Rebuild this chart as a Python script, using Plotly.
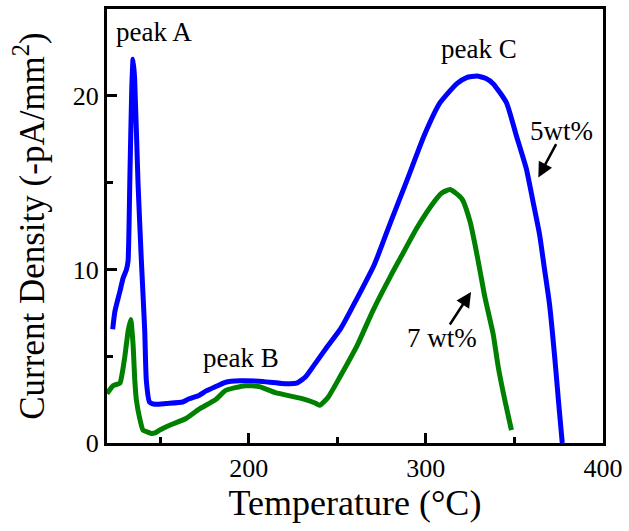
import plotly.graph_objects as go

# ---- data ----
blue_x = [123.2, 124.5, 127.3, 129.1, 131.0, 131.9, 132.9, 134.0, 134.7, 135.6, 137.5, 139.4,
          141.3, 142.2, 144.0, 146.9, 153.6, 162.7, 166.4, 172.0, 176.0, 181.4, 187.0, 195.0,
          205.6, 212.0, 218.5, 227.0, 232.0, 237.0, 244.0, 252.0, 261.0, 271.0, 280.0, 289.6,
          299.0, 308.0, 317.5, 323.0, 328.7, 334.0, 338.0, 345.5, 351.1, 356.7, 360.5, 364.2,
          367.0, 369.8, 372.6, 375.0, 377.0]
blue_y = [6.55, 7.6, 8.74, 9.5, 10.0, 10.5, 15.2, 20.5, 22.1, 21.0, 15.0, 10.5,
          6.46, 3.6, 2.36, 2.23, 2.28, 2.36, 2.55, 2.74, 3.0, 3.25, 3.5, 3.58,
          3.56, 3.5, 3.43, 3.45, 3.8, 4.5, 5.5, 6.6, 8.3, 10.3, 12.7, 15.2,
          17.7, 19.6, 20.7, 21.05, 21.14, 21.0, 20.7, 19.6, 17.7, 15.8, 13.9, 12.0,
          10.0, 8.0, 5.1, 2.27, 0.0]

green_x = [120.0, 123.4, 127.3, 128.2, 130.0, 132.0, 133.4, 134.7, 135.7, 136.6, 138.5, 140.3,
           142.5, 145.0, 147.5, 149.7, 151.5, 156.0, 164.6, 172.0, 181.4, 187.0, 198.0, 206.0,
           215.0, 229.7, 237.5, 240.0, 244.8, 252.0, 261.6, 270.0, 280.0, 285.6, 295.0, 304.7,
           309.0, 313.7, 320.3, 325.0, 327.8, 330.6, 333.4, 338.0, 340.9, 344.6, 348.3]
green_y = [2.84, 3.3, 3.45, 3.8, 4.93, 6.5, 7.12, 5.7, 3.6, 2.46, 1.4, 0.74,
           0.65, 0.55, 0.6, 0.74, 0.84, 1.05, 1.41, 1.95, 2.5, 3.03, 3.3, 3.25,
           2.9, 2.57, 2.3, 2.17, 2.63, 3.9, 5.7, 7.6, 9.6, 10.65, 12.4, 13.9,
           14.4, 14.6, 14.07, 12.74, 11.4, 9.9, 8.36, 6.27, 4.36, 2.46, 0.74]

x_major = [200, 300, 400]
x_minor = [150, 250, 350]
y_major = [0, 10, 20]
y_minor = [5, 15]

labels = ["peak A", "peak B", "peak C", "5wt%", "7 wt%"]
label_x = [146.3, 195.5, 329.9, 376.3, 308.9]
label_y = [23.7, 4.9, 22.7, 18.0, 6.06]

FONT = "Liberation Serif, Times New Roman, serif"

fig = go.Figure()
fig.add_trace(go.Scatter(x=blue_x, y=blue_y, mode="lines", name="5wt%",
                         line=dict(color="#0000FF", width=5, shape="spline", smoothing=0.5)))
fig.add_trace(go.Scatter(x=green_x, y=green_y, mode="lines", name="7 wt%",
                         line=dict(color="#008000", width=5, shape="spline", smoothing=0.5)))

for t, lx, ly in zip(labels, label_x, label_y):
    fig.add_annotation(x=lx, y=ly, text=t, showarrow=False,
                       font=dict(family=FONT, size=27, color="black"))

# arrows
fig.add_annotation(x=363.5, y=15.3, ax=374.0, ay=17.3, axref="x", ayref="y",
                   text="", showarrow=True, arrowhead=2, arrowsize=1.2,
                   arrowwidth=2.5, arrowcolor="black")
fig.add_annotation(x=325.5, y=8.7, ax=313.0, ay=6.74, axref="x", ayref="y",
                   text="", showarrow=True, arrowhead=2, arrowsize=1.2,
                   arrowwidth=2.5, arrowcolor="black")

axis_common = dict(showline=True, linewidth=3, linecolor="black", mirror=True,
                   ticks="inside", ticklen=10, tickwidth=3, tickcolor="black",
                   showgrid=False, zeroline=False,
                   tickfont=dict(family=FONT, size=26, color="black"))

fig.update_xaxes(range=[120, 400], tickvals=x_major,
                 minor=dict(tickvals=x_minor, ticks="inside", ticklen=6, tickwidth=3,
                            tickcolor="black", showgrid=False),
                 title=dict(text="Temperature (°C)", font=dict(family=FONT, size=36, color="black"),
                            standoff=8),
                 **axis_common)
fig.update_yaxes(range=[0, 25], tickvals=y_major,
                 minor=dict(tickvals=y_minor, ticks="inside", ticklen=6, tickwidth=3,
                            tickcolor="black", showgrid=False),
                 title=dict(text="Current Density (-pA/mm<sup>2</sup>)",
                            font=dict(family=FONT, size=35, color="black"), standoff=18),
                 **axis_common)

fig.update_layout(width=629, height=531, showlegend=False,
                  margin=dict(l=107, r=23, t=6, b=88),
                  plot_bgcolor="white", paper_bgcolor="white")

fig.write_html("out.html", config={"displayModeBar": False},
               post_script="document.body.style.margin='0';document.body.style.overflow='hidden';")
